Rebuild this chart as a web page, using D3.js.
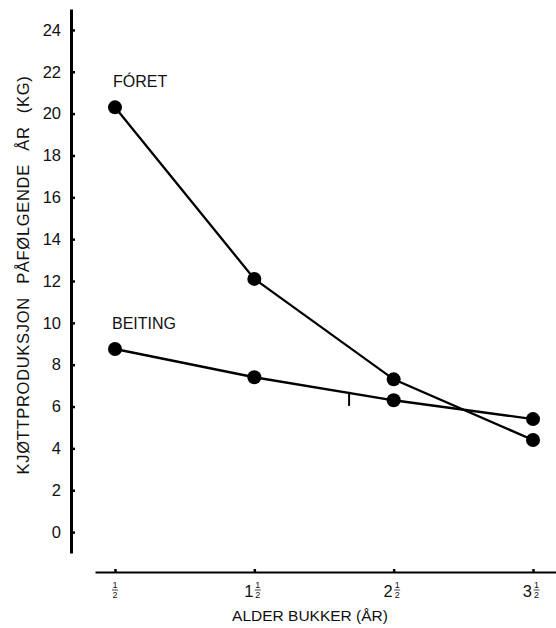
<!DOCTYPE html>
<html>
<head>
<meta charset="utf-8">
<script src="https://cdn.jsdelivr.net/npm/d3@7"></script>
<style>
  html, body { margin: 0; padding: 0; background: #fff; }
  svg { display: block; font-family: "Liberation Sans", Arial, Helvetica, sans-serif; }
</style>
</head>
<body>
<svg id="chart" width="556" height="628"></svg>
<script>
// ---- data ----
const ages = [0.5, 1.5, 2.5, 3.5];
const xTickLabels = ["1/2", "1 1/2", "2 1/2", "3 1/2"];
const foret = [20.3, 12.1, 7.3, 4.4];
const beiting = [8.75, 7.4, 6.3, 5.4];
const yTicks = [0, 2, 4, 6, 8, 10, 12, 14, 16, 18, 20, 22, 24];
const seriesNames = ["FÓRET", "BEITING"];
const xTitle = "ALDER BUKKER (ÅR)";
const yTitle = "KJØTTPRODUKSJON PÅFØLGENDE ÅR (KG)";
const markAge = 2.18; // small vertical mark on BEITING line
const markValue = 6.7;

// ---- layout ----
const svg = d3.select("#chart");
const x = d3.scaleLinear().domain([0.5, 3.5]).range([115, 533]);
const y = d3.scaleLinear().domain([-1, 25]).range([553, 9]);

// Y axis
const yAxis = d3.axisLeft(y).tickValues(yTicks).tickSizeInner(-4).tickSizeOuter(0).tickPadding(10);
const yg = svg.append("g").attr("transform", "translate(71,0)").call(yAxis);
yg.select(".domain").attr("stroke", "#000").attr("stroke-width", 3);
yg.selectAll(".tick line").attr("stroke", "#000").attr("stroke-width", 2.5);
yg.selectAll(".tick text").attr("font-size", 16.5).attr("fill", "#111")
  .attr("font-family", "Liberation Sans, Arial, sans-serif");

// X axis (extended line)
const xAxisScale = x.copy().domain([x.invert(95), x.invert(556)]).range([95, 556]);
const xAxis = d3.axisBottom(xAxisScale).tickValues(ages).tickSizeInner(-3).tickSizeOuter(0).tickFormat("");
const xg = svg.append("g").attr("transform", "translate(0,572)").call(xAxis);
xg.select(".domain").attr("stroke", "#000").attr("stroke-width", 2.2);
xg.selectAll(".tick line").attr("stroke", "#000").attr("stroke-width", 2.5);

// X tick labels as mixed fractions
xTickLabels.forEach((lab, i) => {
  const parts = lab.split(" ");
  const whole = parts.length > 1 ? parts[0] : "";
  const frac = parts[parts.length - 1].split("/");
  const cx = x(ages[i]);
  const g = svg.append("g").attr("transform", `translate(${cx},0)`);
  const fracW = 6;
  let fracX = 0;
  if (whole) {
    g.append("text").attr("x", -1).attr("y", 597).attr("text-anchor", "end")
      .attr("font-size", 16.5).attr("fill", "#111").text(whole);
    fracX = 0.5;
  } else {
    fracX = -fracW / 2;
  }
  g.append("text").attr("x", fracX + fracW / 2).attr("y", 587.5).attr("text-anchor", "middle")
    .attr("font-size", 9).attr("fill", "#111").text(frac[0]);
  g.append("line").attr("x1", fracX).attr("x2", fracX + fracW).attr("y1", 590).attr("y2", 590)
    .attr("stroke", "#111").attr("stroke-width", 0.8);
  g.append("text").attr("x", fracX + fracW / 2).attr("y", 598).attr("text-anchor", "middle")
    .attr("font-size", 9).attr("fill", "#111").text(frac[1]);
});

// Axis titles
svg.append("text").attr("x", 310).attr("y", 621).attr("text-anchor", "middle")
  .attr("font-size", 15.5).attr("fill", "#111").text(xTitle);
svg.append("text").attr("transform", "translate(29,275) rotate(-90)").attr("text-anchor", "middle")
  .attr("font-size", 16.5).attr("fill", "#111")
  .attr("letter-spacing", 0.7).attr("word-spacing", 8).text(yTitle);

// Series
const line = d3.line().x((d, i) => x(ages[i])).y(d => y(d));
[foret, beiting].forEach(s => {
  svg.append("path").datum(s).attr("d", line).attr("fill", "none")
    .attr("stroke", "#000").attr("stroke-width", 2.3);
  svg.selectAll(null).data(s).enter().append("circle")
    .attr("cx", (d, i) => x(ages[i])).attr("cy", d => y(d)).attr("r", 7).attr("fill", "#000");
});

// small mark
svg.append("line").attr("x1", x(markAge)).attr("x2", x(markAge))
  .attr("y1", y(markValue)).attr("y2", y(markValue) + 14)
  .attr("stroke", "#000").attr("stroke-width", 2);

// Series labels
svg.append("text").attr("x", x(ages[0]) - 2).attr("y", y(foret[0]) - 20)
  .attr("font-size", 16).attr("fill", "#111").text(seriesNames[0]);
svg.append("text").attr("x", x(ages[0]) - 3).attr("y", y(beiting[0]) - 20)
  .attr("font-size", 16).attr("fill", "#111").text(seriesNames[1]);
</script>
</body>
</html>
